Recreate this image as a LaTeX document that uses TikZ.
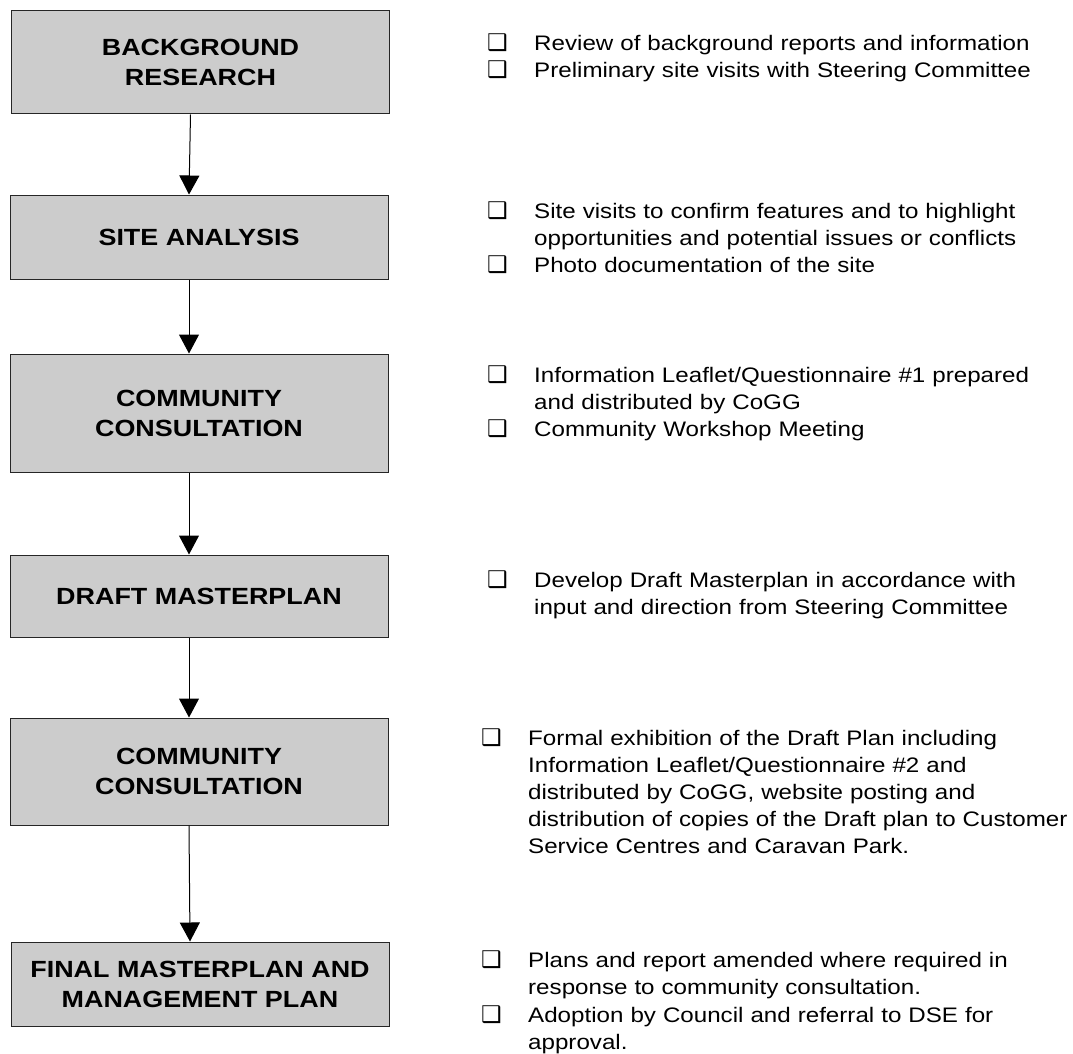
\documentclass[tikz,border=0pt]{standalone}
\usepackage{fontspec}
\setmainfont{Liberation Sans}[FakeStretch=1.15]
\newfontfamily\symfont{DejaVu Sans}
\usepackage{tikz}
\usetikzlibrary{arrows.meta,positioning}

\tikzset{
  stage/.style={draw=black!85, line width=1pt, fill=black!20, minimum width=378pt,
    align=center, inner sep=0pt, text depth=0pt, font=\bfseries\fontsize{23.4}{30}\selectfont},
  itemtext/.style={anchor=base west, text width=545pt, align=left, inner sep=0pt,
    font=\fontsize{21}{27.2}\selectfont},
  chkbox/.style={anchor=base west, inner sep=0pt, font=\symfont\fontsize{23}{23}\selectfont},
  flow/.style={line width=1pt, -{Triangle[width=20pt,length=19pt]}}
}

\begin{document}
\begin{tikzpicture}[x=1pt, y=-1pt]
      \fill[white] (0,0) rectangle (1073,1054);
      \useasboundingbox (0,0) rectangle (1073,1054);
      % stages
      \node[stage, minimum height=103pt] (b1) at (200.5,62.5) {BACKGROUND\\RESEARCH};
      \node[stage, minimum height=84pt]  (b2) at (199,237)    {SITE ANALYSIS};
      \node[stage, minimum height=118pt] (b3) at (199,413)    {COMMUNITY\\CONSULTATION};
      \node[stage, minimum height=82pt]  (b4) at (199,596)    {DRAFT MASTERPLAN};
      \node[stage, minimum height=107pt] (b5) at (199,771.5)  {COMMUNITY\\CONSULTATION};
      \node[stage, minimum height=84pt]  (b6) at (200,984)    {FINAL MASTERPLAN AND\\MANAGEMENT PLAN};
      \foreach \a/\b in {b1/b2, b2/b3, b3/b4, b4/b5, b5/b6}
        \draw[flow] ([xshift=-10pt]\a.south) -- ([xshift=-10pt]\b.north);
      % notes
      \node[itemtext] (n1a) at (534,51)  {Review of background reports and information};
      \node[itemtext] (n1b) at (534,78)  {Preliminary site visits with Steering Committee};
      \node[itemtext] (n2a) at (534,218) {Site visits to confirm features and to highlight\\
        opportunities and potential issues or conflicts};
      \node[itemtext] (n2b) at (534,272) {Photo documentation of the site};
      \node[itemtext] (n3a) at (534,382) {Information Leaflet/Questionnaire \#1 prepared\\
        and distributed by CoGG};
      \node[itemtext] (n3b) at (534,436) {Community Workshop Meeting};
      \node[itemtext] (n4a) at (534,587) {Develop Draft Masterplan in accordance with\\
        input and direction from Steering Committee};
      \node[itemtext] (n5a) at (528,745) {Formal exhibition of the Draft Plan including\\
        Information Leaflet/Questionnaire \#2 and\\
        distributed by CoGG, website posting and\\
        distribution of copies of the Draft plan to Customer\\
        Service Centres and Caravan Park.};
      \node[itemtext] (n6a) at (528,967)  {Plans and report amended where required in\\
        response to community consultation.};
      \node[itemtext] (n6b) at (528,1022) {Adoption by Council and referral to DSE for\\
        approval.};
      \foreach \n in {n1a, n1b, n2a, n2b, n3a, n3b, n4a, n5a, n6a, n6b}
        \node[chkbox] at ([xshift=-47pt]\n.base west) {❑};
    \end{tikzpicture}
\end{document}
